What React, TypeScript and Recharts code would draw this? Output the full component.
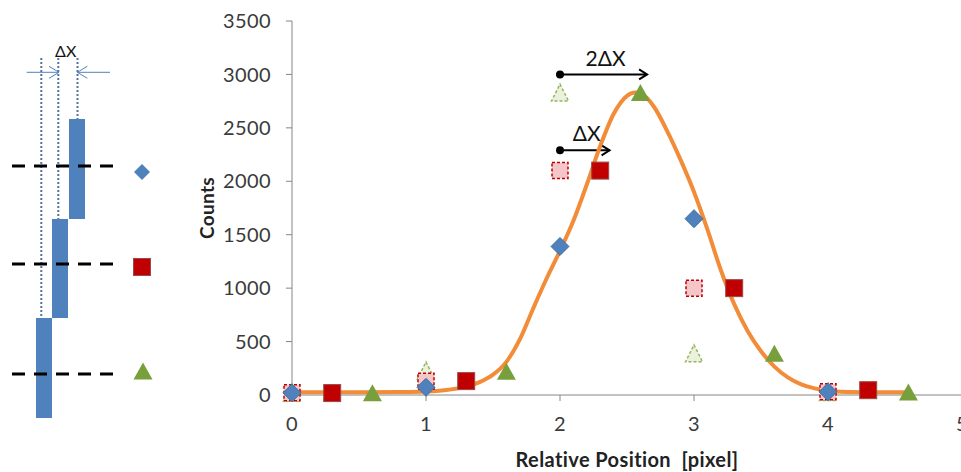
import React from 'react';
import {
  ScatterChart,
  Scatter,
  XAxis,
  YAxis,
  ReferenceLine,
  ReferenceArea,
  ReferenceDot,
} from 'recharts';

// ---------- main chart data ----------
const xTicks = [0, 1, 2, 3, 4, 5];
const yTicks = [0, 500, 1000, 1500, 2000, 2500, 3000, 3500];

const diamondX = [0, 1, 2, 3, 4];
const diamondY = [20, 72, 1390, 1650, 30];

const squareX = [0.3, 1.3, 2.3, 3.3, 4.3];
const squareY = [18, 130, 2100, 1000, 45];

const triangleX = [0.6, 1.6, 2.6, 3.6, 4.6];
const triangleY = [20, 222, 2830, 390, 28];

const ghostSquareX = [0, 1, 2, 3, 4];
const ghostSquareY = [20, 128, 2100, 1000, 30];

const ghostTriangleX = [0, 1, 2, 3, 4];
const ghostTriangleY = [22, 230, 2830, 390, 28];

const fitX = [0, 0.5, 0.8, 1.0, 1.1, 1.2, 1.3, 1.4, 1.5, 1.6, 1.7, 1.8, 1.9, 2.0, 2.1, 2.2, 2.3, 2.4, 2.5, 2.56, 2.62, 2.7, 2.8, 2.9, 3.0, 3.1, 3.2, 3.3, 3.4, 3.5, 3.6, 3.7, 3.8, 3.9, 4.0, 4.1, 4.3, 4.6];
const fitY = [25, 25, 27, 32, 40, 55, 78, 120, 190, 310, 520, 810, 1090, 1350, 1630, 1970, 2330, 2630, 2800, 2830, 2810, 2700, 2470, 2200, 1900, 1550, 1170, 850, 600, 410, 265, 165, 100, 62, 40, 30, 26, 25];

const arrowStartX = [2, 2];
const arrowEndX = [2.65, 2.37];
const arrowY = [3000, 2290];
const arrowLabels = ['2ΔX', 'ΔX'];
const arrowLabelX = [2.34, 2.2];
const arrowLabelY = [3150, 2450];

// ---------- schematic data (diagram units) ----------
const barLeft = [36, 52, 69];
const barRight = [52, 68, 85];
const barTop = [318, 219, 119];
const barBottom = [418, 318, 219];
const guideX = [41.3, 58.3, 77.5];
const guideTop = 58;
const guideBottom = [318, 219, 119];
const levelY = [166, 264, 374];
const levelStart = 12;
const levelEnd = 117;
const markerX = [142, 142, 143];
const markerY = [172, 267, 371];
const dimArrowY = 72.3;
const dimArrowFrom = [26.7, 110];
const dimArrowTo = [59, 77.3];
const dimLabel = 'ΔX';
const dimLabelX = 65.7;
const dimLabelY = 51.7;

const zip = (xs: number[], ys: number[]) => xs.map((x, i) => ({ x, y: ys[i] }));

const BLUE = '#4F81BD';
const RED = '#C00000';
const GREEN = '#77A03C';
const ORANGE = '#F28C38';
const AXIS = '#868686';
const TEXT = '#3a3a3a';
const FONT = "Lato, 'Open Sans', sans-serif";

const Diamond = (p: any) => {
  const { cx, cy } = p;
  const r = 9;
  return (
    <polygon
      points={`${cx},${cy - r} ${cx + r},${cy} ${cx},${cy + r} ${cx - r},${cy}`}
      fill={BLUE}
      stroke="#41709f"
      strokeWidth={1}
    />
  );
};
const SmallDiamond = (p: any) => {
  const { cx, cy } = p;
  const r = 8;
  return (
    <polygon
      points={`${cx},${cy - r} ${cx + r},${cy} ${cx},${cy + r} ${cx - r},${cy}`}
      fill={BLUE}
    />
  );
};
const Square = (p: any) => {
  const { cx, cy } = p;
  const h = 8.5;
  return <rect x={cx - h} y={cy - h} width={2 * h} height={2 * h} fill={RED} stroke="#9a4a48" strokeWidth={1} />;
};
const GhostSquare = (p: any) => {
  const { cx, cy } = p;
  const h = 8;
  return (
    <rect x={cx - h} y={cy - h} width={2 * h} height={2 * h} fill="#F4C6CA" stroke={RED} strokeWidth={1.5} strokeDasharray="3 2" />
  );
};
const Triangle = (p: any) => {
  const { cx, cy } = p;
  const w = 9.5;
  const h = 8.5;
  return <polygon points={`${cx},${cy - h} ${cx + w},${cy + h} ${cx - w},${cy + h}`} fill={GREEN} />;
};
const GhostTriangle = (p: any) => {
  const { cx, cy } = p;
  const w = 8.5;
  const h = 8.5;
  return (
    <polygon
      points={`${cx},${cy - h} ${cx + w},${cy + h} ${cx - w},${cy + h}`}
      fill="#EAF1DC"
      stroke="#98B25E"
      strokeWidth={1.5}
      strokeDasharray="3 2"
    />
  );
};
const NoMark = () => <g />;

const makeArrow = (color: string, width: number, headLen: number, headHalf: number, withDot: boolean) => (props: any) => {
  const x1 = Number(props.x1);
  const y1 = Number(props.y1);
  const x2 = Number(props.x2);
  const y2 = Number(props.y2);
  const a = Math.atan2(y2 - y1, x2 - x1);
  const ux = Math.cos(a);
  const uy = Math.sin(a);
  const bx = x2 - ux * headLen;
  const by = y2 - uy * headLen;
  const p1 = `${bx - uy * headHalf},${by + ux * headHalf}`;
  const p2 = `${bx + uy * headHalf},${by - ux * headHalf}`;
  return (
    <g>
      <line x1={x1} y1={y1} x2={x2} y2={y2} stroke={color} strokeWidth={width} />
      <polyline points={`${p1} ${x2},${y2} ${p2}`} fill="none" stroke={color} strokeWidth={width} strokeLinejoin="miter" />
      {withDot ? <circle cx={x1} cy={y1} r={4} fill="#000" /> : null}
    </g>
  );
};
const mainArrow = makeArrow('#000', 2, 8, 5, true);
const dimArrow = makeArrow(BLUE, 1, 10, 6, false);

const Schematic = () => (
  <ScatterChart width={200} height={472} margin={{ top: 0, right: 0, bottom: 0, left: 0 }}>
    <XAxis type="number" dataKey="x" domain={[0, 200]} hide />
    <YAxis type="number" dataKey="y" domain={[0, 472]} reversed hide />
    {barLeft.map((l, i) => (
      <ReferenceArea
        key={`bar${i}`}
        x1={l}
        x2={barRight[i]}
        y1={barTop[i]}
        y2={barBottom[i]}
        fill={BLUE}
        fillOpacity={1}
        stroke="none"
      />
    ))}
    {guideX.map((gx, i) => (
      <ReferenceLine
        key={`guide${i}`}
        segment={[
          { x: gx, y: guideTop },
          { x: gx, y: guideBottom[i] },
        ]}
        stroke="#56739f"
        strokeWidth={2}
        strokeDasharray="2 2"
      />
    ))}
    {levelY.map((ly, i) => (
      <ReferenceLine
        key={`level${i}`}
        segment={[
          { x: levelStart, y: ly },
          { x: levelEnd, y: ly },
        ]}
        stroke="#000"
        strokeWidth={3}
        strokeDasharray="13 9"
      />
    ))}
    {dimArrowFrom.map((f, i) => (
      <ReferenceLine
        key={`dim${i}`}
        segment={[
          { x: f, y: dimArrowY },
          { x: dimArrowTo[i], y: dimArrowY },
        ]}
        shape={dimArrow}
      />
    ))}
    <ReferenceDot
      x={dimLabelX}
      y={dimLabelY}
      r={0}
      fill="none"
      stroke="none"
      label={{ value: dimLabel, position: 'center', fill: '#111', fontSize: 16, fontFamily: FONT }}
    />
    <Scatter data={[{ x: markerX[0], y: markerY[0] }]} shape={SmallDiamond} isAnimationActive={false} />
    <Scatter data={[{ x: markerX[1], y: markerY[1] }]} shape={Square} isAnimationActive={false} />
    <Scatter data={[{ x: markerX[2], y: markerY[2] }]} shape={Triangle} isAnimationActive={false} />
  </ScatterChart>
);

const MainChart = () => (
  <ScatterChart width={972} height={472} margin={{ top: 21, right: 10, bottom: 0, left: 200 }}>
    <XAxis
      type="number"
      dataKey="x"
      domain={[0, 5]}
      ticks={xTicks}
      allowDecimals={false}
      stroke={AXIS}
      tickSize={6}
      tickMargin={16}
      height={77}
      tick={{ fill: TEXT, fontSize: 20, fontFamily: FONT, letterSpacing: 0.4 }}
      label={{
        value: 'Relative Position\u00A0 [pixel]',
        position: 'insideBottom',
        offset: 5,
        fill: '#222',
        fontSize: 20,
        fontWeight: 700,
        fontFamily: FONT,
        letterSpacing: 0.4,
      }}
    />
    <YAxis
      type="number"
      dataKey="y"
      domain={[0, 3500]}
      ticks={yTicks}
      stroke={AXIS}
      tickSize={6}
      tickMargin={15}
      width={92}
      tick={{ fill: TEXT, fontSize: 20, fontFamily: FONT, letterSpacing: 0.4 }}
      label={{
        value: 'Counts',
        angle: -90,
        position: 'insideLeft',
        offset: 7,
        fill: '#222',
        fontSize: 19,
        fontWeight: 700,
        fontFamily: FONT,
        letterSpacing: 0.3,
        style: { textAnchor: 'middle' },
      }}
    />
    <Scatter
      data={zip(fitX, fitY)}
      line={{ stroke: ORANGE, strokeWidth: 4 }}
      lineJointType="monotoneX"
      shape={NoMark}
      isAnimationActive={false}
    />
    <Scatter data={zip(ghostTriangleX, ghostTriangleY)} shape={GhostTriangle} isAnimationActive={false} />
    <Scatter data={zip(ghostSquareX, ghostSquareY)} shape={GhostSquare} isAnimationActive={false} />
    <Scatter data={zip(diamondX, diamondY)} shape={Diamond} isAnimationActive={false} />
    <Scatter data={zip(squareX, squareY)} shape={Square} isAnimationActive={false} />
    <Scatter data={zip(triangleX, triangleY)} shape={Triangle} isAnimationActive={false} />
    {arrowStartX.map((sx, i) => (
      <ReferenceLine
        key={`arrow${i}`}
        segment={[
          { x: sx, y: arrowY[i] },
          { x: arrowEndX[i], y: arrowY[i] },
        ]}
        shape={mainArrow}
      />
    ))}
    {arrowLabels.map((t, i) => (
      <ReferenceDot
        key={`alabel${i}`}
        x={arrowLabelX[i]}
        y={arrowLabelY[i]}
        r={0}
        fill="none"
        stroke="none"
        label={{ value: t, position: 'center', fill: '#111', fontSize: 21, fontFamily: FONT }}
      />
    ))}
  </ScatterChart>
);

export default function App() {
  return (
    <div
      style={{
        position: 'absolute',
        left: 0,
        top: 0,
        width: 961,
        height: 472,
        overflow: 'hidden',
        background: '#fff',
        fontFamily: FONT,
      }}
    >
      <div style={{ position: 'absolute', left: 0, top: 0 }}>
        <MainChart />
      </div>
      <div style={{ position: 'absolute', left: 0, top: 0 }}>
        <Schematic />
      </div>
    </div>
  );
}
